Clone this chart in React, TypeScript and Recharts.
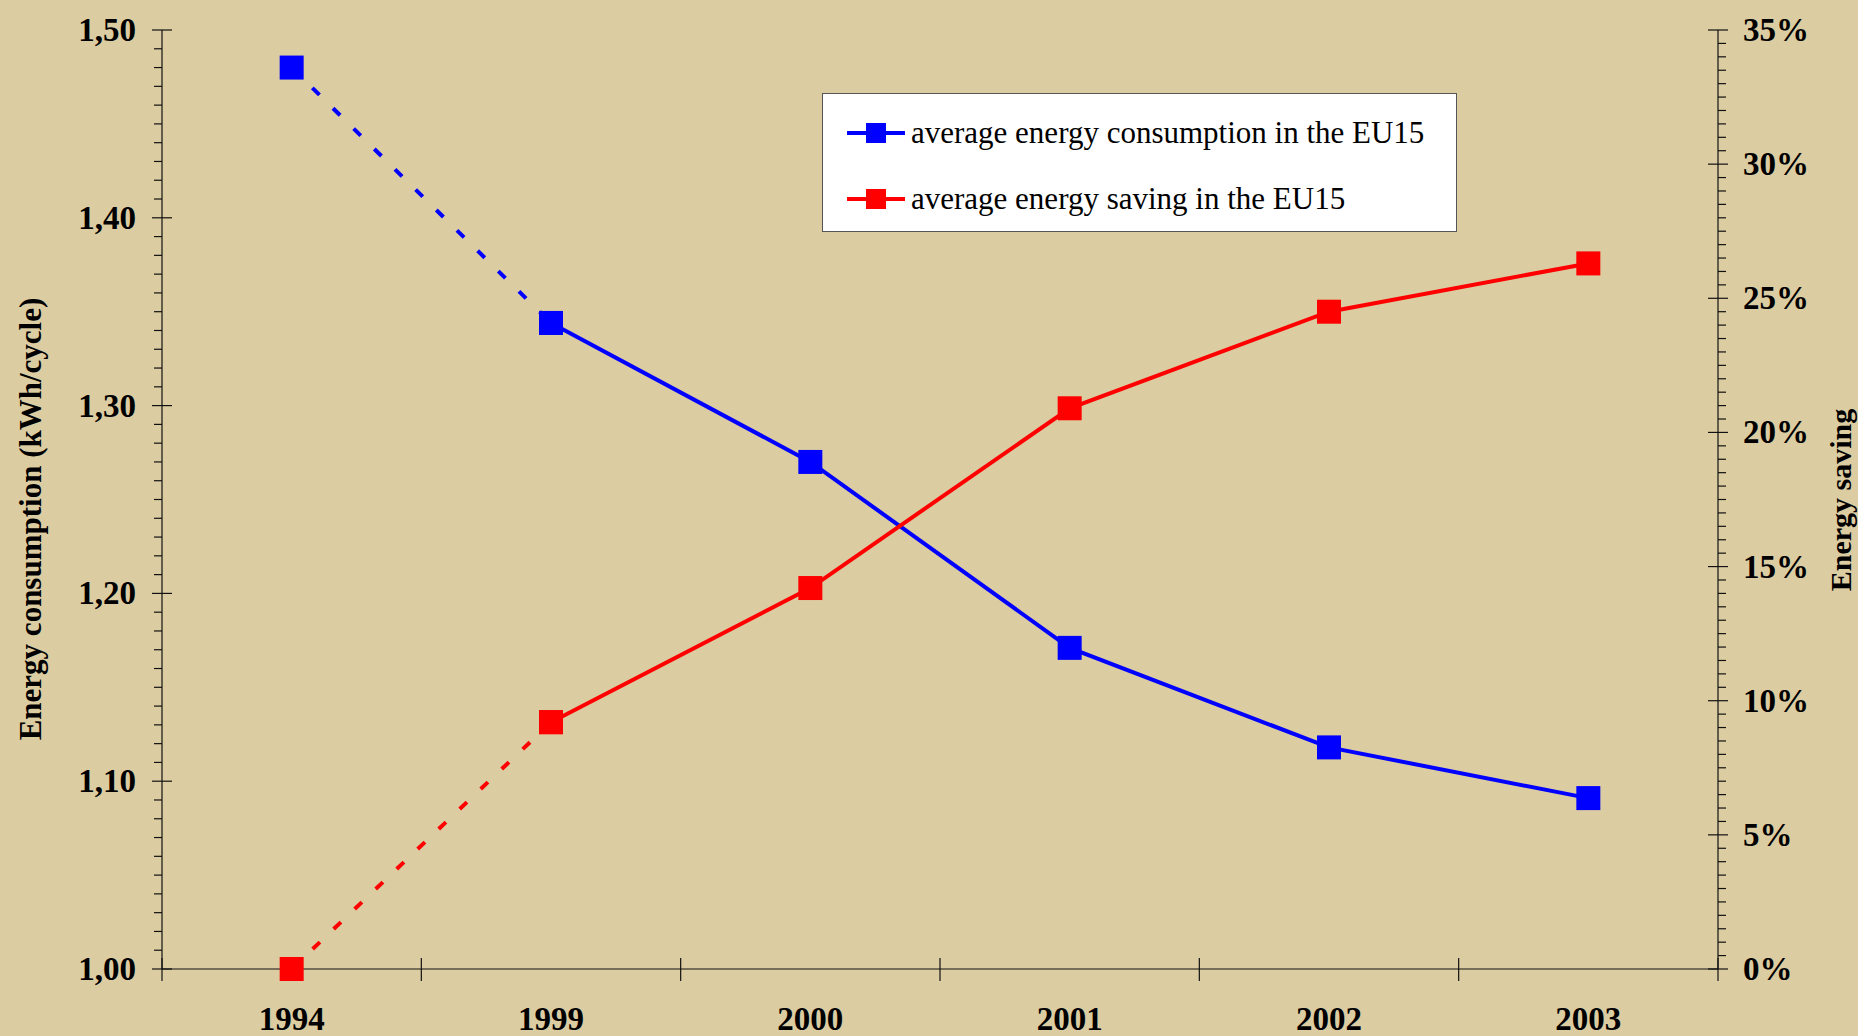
import { LineChart, Line, XAxis, YAxis, Legend } from 'recharts';

const years = ['1994', '1999', '2000', '2001', '2002', '2003'];
const consumption = [1.48, 1.344, 1.27, 1.171, 1.118, 1.091];
const saving = [0, 9.2, 14.2, 20.9, 24.5, 26.3];

const leftTicks = Array.from({ length: 51 }, (_, i) => Number((1 + i / 100).toFixed(2)));
const rightTicks = Array.from({ length: 71 }, (_, i) => i / 2);

const BG = '#dccca1';
const FONT = "'Liberation Serif', 'Times New Roman', serif";
const AXIS = '#111';
const BLUE = '#0000ff';
const RED = '#ff0000';

const W = 1858;
const H = 1036;
const PLOT_LEFT = 162;
const PLOT_RIGHT = 1718;
const BAND = (PLOT_RIGHT - PLOT_LEFT) / years.length;

// first segment (1994 -> 1999) is dashed, the rest solid
const data = years.map((year, i) => ({
  year,
  consDash: i <= 1 ? consumption[i] : null,
  cons: i >= 1 ? consumption[i] : null,
  saveDash: i <= 1 ? saving[i] : null,
  save: i >= 1 ? saving[i] : null,
}));

const square = (color: string, size: number) => (props: any) => {
  const { cx, cy, index } = props;
  if (cx == null || cy == null) return <g key={`d-${index}`} />;
  return (
    <rect
      key={`d-${index}`}
      x={cx - size / 2}
      y={cy - size / 2}
      width={size}
      height={size}
      fill={color}
    />
  );
};

const LeftTick = (props: any) => {
  const { x, y, index, payload } = props;
  const major = index % 10 === 0;
  return (
    <g>
      {major ? (
        <line x1={x - 10} x2={x + 10} y1={y} y2={y} stroke={AXIS} strokeWidth={1.2} />
      ) : (
        <line x1={x - 8} x2={x} y1={y} y2={y} stroke={AXIS} strokeWidth={1.2} />
      )}
      {major && (
        <text
          x={x - 26}
          y={y}
          textAnchor="end"
          dominantBaseline="central"
          fontFamily={FONT}
          fontWeight="bold"
          fontSize={33}
          fill="#000"
        >
          {Number(payload.value).toFixed(2).replace('.', ',')}
        </text>
      )}
    </g>
  );
};

const RightTick = (props: any) => {
  const { x, y, index, payload } = props;
  const major = index % 10 === 0;
  return (
    <g>
      {major ? (
        <line x1={x - 10} x2={x + 10} y1={y} y2={y} stroke={AXIS} strokeWidth={1.2} />
      ) : (
        <line x1={x} x2={x + 8} y1={y} y2={y} stroke={AXIS} strokeWidth={1.2} />
      )}
      {major && (
        <text
          x={x + 25}
          y={y}
          textAnchor="start"
          dominantBaseline="central"
          fontFamily={FONT}
          fontWeight="bold"
          fontSize={33}
          fill="#000"
        >
          {`${payload.value}%`}
        </text>
      )}
    </g>
  );
};

const YearTick = (props: any) => {
  const { x, y, index, payload } = props;
  const half = payload.offset ? payload.offset : BAND / 2;
  const last = index === years.length - 1;
  return (
    <g>
      <line x1={x - half} x2={x - half} y1={y - 11} y2={y + 12} stroke={AXIS} strokeWidth={1.2} />
      {last && (
        <line x1={x + half} x2={x + half} y1={y - 11} y2={y + 12} stroke={AXIS} strokeWidth={1.2} />
      )}
      <text
        x={x}
        y={y + 61}
        textAnchor="middle"
        fontFamily={FONT}
        fontWeight="bold"
        fontSize={33}
        fill="#000"
      >
        {payload.value}
      </text>
    </g>
  );
};

const LegendBox = (props: any) => {
  const items = (props.payload || []).filter((p: any) => p.type !== 'none');
  const centers = [39, 105];
  return (
    <div
      style={{
        position: 'relative',
        width: 635,
        height: 139,
        boxSizing: 'border-box',
        background: '#fff',
        border: '1px solid #555',
      }}
    >
      {items.map((item: any, i: number) => (
        <div
          key={item.value}
          style={{
            position: 'absolute',
            left: 24,
            top: centers[i] - 18,
            height: 36,
            display: 'flex',
            alignItems: 'center',
            whiteSpace: 'nowrap',
          }}
        >
          <svg width={58} height={24} style={{ marginRight: 6 }}>
            <line x1={0} x2={58} y1={12} y2={12} stroke={item.color} strokeWidth={4} />
            <rect x={19} y={2} width={20} height={20} fill={item.color} />
          </svg>
          <span style={{ fontFamily: FONT, fontSize: 31, color: '#000' }}>{item.value}</span>
        </div>
      ))}
    </div>
  );
};

export default function App() {
  return (
    <div style={{ position: 'absolute', left: 0, top: 0, width: W, height: H, background: BG }}>
      <LineChart width={W} height={H} data={data} margin={{ top: 30, right: 0, bottom: 0, left: 0 }}>
        <XAxis
          dataKey="year"
          scale="band"
          height={H - 969}
          interval={0}
          tickLine={false}
          tickSize={0}
          tickMargin={0}
          axisLine={{ stroke: AXIS, strokeWidth: 1.2 }}
          tick={YearTick}
        />
        <YAxis
          yAxisId="left"
          domain={[1, 1.5]}
          ticks={leftTicks}
          interval={0}
          width={PLOT_LEFT}
          tickLine={false}
          tickSize={0}
          tickMargin={0}
          axisLine={{ stroke: AXIS, strokeWidth: 1.2 }}
          tick={LeftTick}
          label={{
            content: () => (
              <text
                x={30}
                y={519}
                transform="rotate(-90 30 519)"
                textAnchor="middle"
                dominantBaseline="central"
                fontFamily={FONT}
                fontWeight="bold"
                fontSize={31}
                fill="#000"
              >
                Energy consumption (kWh/cycle)
              </text>
            ),
          }}
        />
        <YAxis
          yAxisId="right"
          orientation="right"
          domain={[0, 35]}
          ticks={rightTicks}
          interval={0}
          width={W - PLOT_RIGHT}
          tickLine={false}
          tickSize={0}
          tickMargin={0}
          axisLine={{ stroke: AXIS, strokeWidth: 1.2 }}
          tick={RightTick}
          label={{
            content: () => (
              <text
                x={1840}
                y={500}
                transform="rotate(-90 1840 500)"
                textAnchor="middle"
                dominantBaseline="central"
                fontFamily={FONT}
                fontWeight="bold"
                fontSize={30}
                fill="#000"
              >
                Energy saving
              </text>
            ),
          }}
        />
        <Legend
          layout="vertical"
          align="center"
          verticalAlign="middle"
          content={LegendBox}
          wrapperStyle={{ left: 822, top: 93, width: 635, height: 139 }}
        />
        <Line
          yAxisId="left"
          dataKey="consDash"
          stroke={BLUE}
          strokeWidth={4}
          strokeDasharray="10 19"
          dot={square(BLUE, 24)}
          activeDot={false}
          legendType="none"
          isAnimationActive={false}
        />
        <Line
          yAxisId="right"
          dataKey="saveDash"
          stroke={RED}
          strokeWidth={4}
          strokeDasharray="10 19"
          dot={square(RED, 24)}
          activeDot={false}
          legendType="none"
          isAnimationActive={false}
        />
        <Line
          yAxisId="left"
          dataKey="cons"
          name="average energy consumption in the EU15"
          stroke={BLUE}
          strokeWidth={4}
          dot={square(BLUE, 24)}
          activeDot={false}
          isAnimationActive={false}
        />
        <Line
          yAxisId="right"
          dataKey="save"
          name="average energy saving in the EU15"
          stroke={RED}
          strokeWidth={4}
          dot={square(RED, 24)}
          activeDot={false}
          isAnimationActive={false}
        />
      </LineChart>
    </div>
  );
}
